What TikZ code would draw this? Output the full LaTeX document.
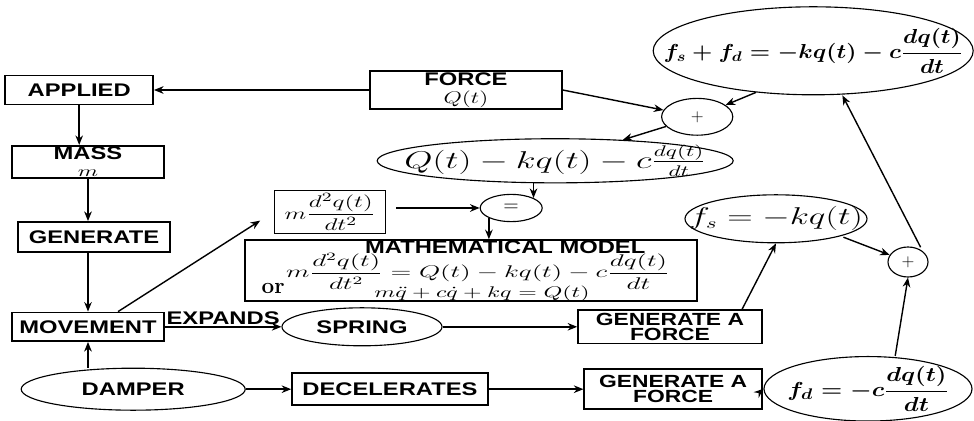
\documentclass[tikz,border=0pt]{standalone}
\usepackage{amsmath,amssymb}
\usepackage{graphicx}
\usepackage{fontspec}
\newfontfamily\lblfont[FakeStretch=1.3]{Liberation Sans}
\usepackage{tikz}
\usetikzlibrary{arrows.meta,positioning,shapes.geometric}

\newcommand{\wide}[2][1.4]{\scalebox{#1}[1]{#2}}
\newcommand{\nowidth}[1]{\makebox[0pt]{#1}}

\begin{document}
\begin{tikzpicture}[
  x=1cm, y=1cm,
  box/.style={draw, line width=1.1pt, minimum height=0.72cm, inner sep=1pt,
    font=\lblfont\bfseries\fontsize{13}{13}\selectfont, align=center},
  oval/.style={draw, ellipse, line width=0.8pt, inner sep=0pt},
  lbl/.style={font=\lblfont\bfseries\fontsize{13}{13}\selectfont, inner sep=1pt},
  gafont/.style={font=\lblfont\bfseries\fontsize{12.5}{11}\selectfont},
  arr/.style={-{Stealth[length=2.4mm,width=1.9mm]}, line width=1pt}
]
  \useasboundingbox (0,0) rectangle (24.35,10.5);

  % Left column
  \node[box, minimum width=3.7cm] (applied) at (1.98,8.25) {APPLIED};
  \node[box, minimum width=3.8cm, minimum height=0.7cm] (mass) at (2.2,6.45)
    {MASS\\[-1pt]{\fontsize{11}{11}\selectfont\wide[1.5]{$m$}}};
  \node[box, minimum width=3.8cm, minimum height=0.75cm] (generate) at (2.35,4.58) {GENERATE};
  \node[box, minimum width=3.8cm] (movement) at (2.2,2.33) {MOVEMENT};
  \node[oval, lbl, minimum width=5.6cm, minimum height=1.05cm] (damper) at (3.33,0.77) {DAMPER};

  \draw[arr] (applied.south) -- (applied.south |- mass.north);
  \draw[arr] (mass.south) -- (mass.south |- generate.north);
  \draw[arr] (movement.north |- generate.south) -- (movement.north);
  \draw[arr] (damper.north -| movement.south) -- (movement.south);

  % Spring and damper branches
  \node[oval, lbl, minimum width=4cm, minimum height=0.95cm] (spring) at (9.05,2.33) {SPRING};
  \node[box, minimum width=4.9cm, minimum height=0.8cm] (decel) at (9.75,0.77) {DECELERATES};
  \node[box, gafont, minimum width=4.6cm, minimum height=0.83cm] (gafspring) at (16.75,2.33)
    {GENERATE A\\FORCE};
  \node[box, gafont, minimum width=4.45cm, minimum height=1.0cm] (gafdamper) at (16.83,0.77)
    {GENERATE A\\FORCE};

  \draw[arr] (movement.east) -- node[lbl, above] (expands) {EXPANDS} (spring.west);
  \draw[arr] (spring.east) -- (gafspring.west);
  \draw[arr] (damper.east) -- (decel.west);
  \draw[arr] (decel.east) -- (gafdamper.west);

  % Force terms
  \node[oval, minimum width=5.2cm, minimum height=1.6cm,
    font=\boldmath\fontsize{15}{17}\selectfont] (fd) at (21.7,0.78)
    {\nowidth{\wide[1.2]{$f_d=-c\dfrac{dq(t)}{dt}$}}};
  \node[oval, minimum width=4.55cm, minimum height=1.2cm,
    font=\fontsize{16}{18}\selectfont] (fs) at (19.4,5.03)
    {\nowidth{\wide[1.45]{$f_s=-kq(t)$}}};
  \node[oval, minimum width=1.0cm, minimum height=0.75cm,
    font=\fontsize{12}{12}\selectfont] (plusR) at (22.7,3.95) {$+$};
  \node[oval, minimum width=8cm, minimum height=2.2cm,
    font=\boldmath\fontsize{14}{16}\selectfont] (fsum) at (20.33,9.23)
    {\nowidth{\wide[1.15]{$f_s+f_d=-kq(t)-c\dfrac{dq(t)}{dt}$}}};

  \draw[arr] (gafdamper.east) -- (fd.west);
  \draw[arr] ([xshift=1.8cm]gafspring.north) -- (fs.south);
  \draw[arr, shorten <=2pt] (fs.south east) -- (plusR);
  \draw[arr] ([xshift=0.68cm]fd.north) -- (plusR.south);
  \draw[arr, shorten <=3pt] (plusR.north east) -- ([xshift=0.73cm]fsum.south);

  % Applied force and sum
  \node[box, minimum width=4.8cm, minimum height=0.82cm] (force) at (11.65,8.25)
    {FORCE\\[0pt]{\fontsize{12}{12}\selectfont\wide{$Q(t)$}}};
  \node[oval, minimum width=1.78cm, minimum height=0.92cm,
    font=\fontsize{12}{12}\selectfont] (plusT) at (17.43,7.58) {$+$};
  \node[oval, minimum width=8.9cm, minimum height=1.05cm,
    font=\fontsize{16}{18}\selectfont] (qsum) at (13.88,6.48)
    {\nowidth{\wide[1.5]{$Q(t)-kq(t)-c\tfrac{dq(t)}{dt}$}}};

  \draw[arr] (force.west) -- (applied.east);
  \draw[arr] (force.east) -- (plusT);
  \draw[arr] (fsum.216) -- (plusT);
  \draw[arr] (plusT) -- (qsum);

  % Equation of motion
  \node[box, minimum width=2.78cm, minimum height=1.08cm,
    font=\fontsize{12.5}{15}\selectfont] (inertia) at (8.25,5.2)
    {\wide[1.5]{$m\dfrac{d^2q(t)}{dt^2}$}};
  \node[oval, minimum width=1.55cm, minimum height=0.68cm,
    font=\fontsize{14}{14}\selectfont] (equals) at (12.78,5.3) {$=$};
  \node[box, minimum width=11.3cm, minimum height=1.52cm] (model) at (11.78,3.74) {};
  \node[lbl] (modeltitle) at (12.63,4.33) {MATHEMATICAL MODEL};
  \node[font=\fontsize{11.5}{15}\selectfont, inner sep=0pt] (modeleq) at (11.95,3.72)
    {\wide[1.62]{$m\dfrac{d^2q(t)}{dt^2}=Q(t)-kq(t)-c\dfrac{dq(t)}{dt}$}};
  \node[font=\bfseries\fontsize{16}{16}\selectfont, inner sep=0pt] (modelor) at (6.83,3.28) {or};
  \node[font=\fontsize{11}{12}\selectfont, inner sep=0pt] (modelalt) at (12.05,3.16)
    {\wide[1.55]{$m\ddot{q}+c\dot{q}+kq=Q(t)$}};

  \draw[arr, shorten >=0.4cm] ([xshift=0.75cm]movement.north) -- (inertia.west);
  \draw[arr, shorten <=0.25cm] (inertia.east |- equals.west) -- (equals.west);
  \draw[arr] (qsum.south -| equals.north east) -- (equals.north east);
  \draw[arr] (equals.south west) -- (equals.south west |- model.north);

\end{tikzpicture}
\end{document}
